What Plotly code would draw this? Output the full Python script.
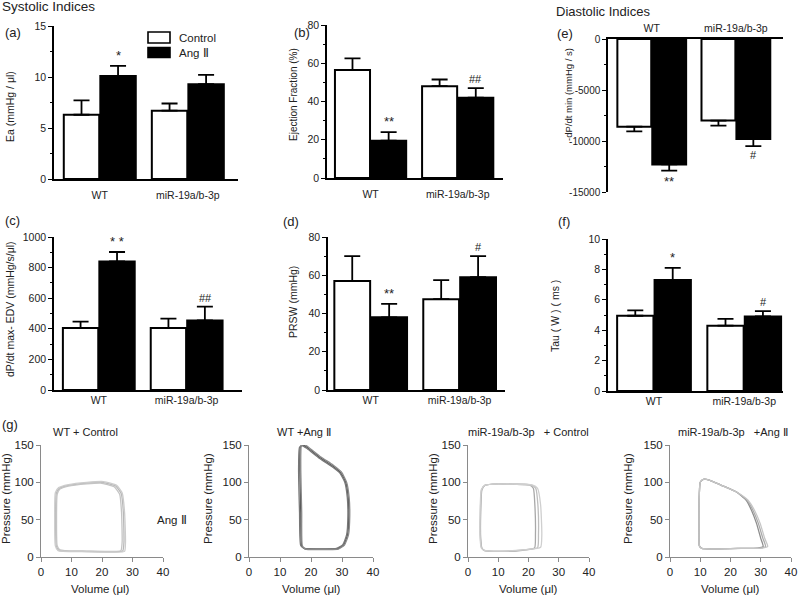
import plotly.graph_objects as go

W, H = 800, 595
FONT = "Arial, Liberation Sans, sans-serif"
TXT = "#222222"

groups = ["WT", "miR-19a/b-3p"]

# (a) Ea
ea_ctrl = [6.3, 6.7]
ea_ctrl_err = [1.4, 0.7]
ea_ang = [10.1, 9.3]
ea_ang_err = [1.0, 0.9]
ea_sig = ["*", ""]

# (b) Ejection fraction
ef_ctrl = [56.5, 48.0]
ef_ctrl_err = [6.0, 3.5]
ef_ang = [19.5, 42.0]
ef_ang_err = [4.5, 5.0]
ef_sig = ["**", "##"]

# (e) -dP/dt min
dpmin_ctrl = [-8600, -8000]
dpmin_ctrl_err = [450, 500]
dpmin_ang = [-12300, -9800]
dpmin_ang_err = [600, 700]
dpmin_sig = ["**", "#"]
dpmin_ticks = [-15000, -10000, -5000, 0]
dpmin_ticktext = ["-15000", "-10000", "-5000", "0"]

# (c) dP/dt max - EDV
dpedv_ctrl = [405, 405]
dpedv_ctrl_err = [42, 62]
dpedv_ang = [840, 455]
dpedv_ang_err = [62, 90]
dpedv_sig = ["* *", "##"]

# (d) PRSW
prsw_ctrl = [57.0, 47.5]
prsw_ctrl_err = [13.0, 10.0]
prsw_ang = [38.0, 59.0]
prsw_ang_err = [7.0, 11.0]
prsw_sig = ["**", "#"]

# (f) Tau
tau_ctrl = [4.95, 4.3]
tau_ctrl_err = [0.35, 0.45]
tau_ang = [7.3, 4.9]
tau_ang_err = [0.8, 0.35]
tau_sig = ["*", "#"]

# (g) PV loops: volume (ul), pressure (mmHg), several cycles per panel
wt_ctrl_vol = [
    [7.5, 15, 24, 26.8, 27.2, 27.0, 26.3, 24.5, 20, 15, 9, 6, 5.0, 4.8, 5.0, 5.8, 7.5],
    [7.8, 15, 23.5, 26.2, 26.6, 26.4, 25.8, 24.0, 19.5, 15, 9, 6.2, 5.3, 5.1, 5.3, 6.2, 7.8],
    [7.2, 15, 24.5, 27.4, 27.7, 27.4, 26.6, 24.8, 20.5, 15, 9, 5.8, 4.7, 4.5, 4.7, 5.6, 7.2],
]
wt_ctrl_p = [
    [8, 7.5, 7, 8, 20, 60, 85, 95, 100, 99, 96, 92, 85, 50, 15, 9, 8],
    [8.5, 8, 7.5, 8.5, 20, 60, 84, 94, 99, 98, 95, 91, 84, 50, 15, 9.5, 8.5],
    [7.5, 7, 6.5, 7.5, 20, 60, 86, 96, 101, 100, 97, 93, 86, 50, 15, 8.5, 7.5],
]

wt_ang_vol = [
    [18, 24, 28.5, 30.5, 31.8, 32.2, 32.0, 31.2, 29.5, 27, 23, 19, 17.5, 16.6, 16.4, 16.7, 17.0, 18],
    [18, 24, 28.2, 30.2, 31.5, 31.9, 31.7, 30.9, 29.2, 26.8, 22.8, 18.8, 17.3, 16.3, 16.0, 16.3, 16.7, 18],
    [18.2, 24, 28.8, 30.8, 32.1, 32.5, 32.3, 31.5, 29.8, 27.2, 23.2, 19.2, 17.7, 16.9, 16.7, 17.0, 17.2, 18.2],
]
wt_ang_p = [
    [11, 10.5, 11, 16, 30, 55, 80, 100, 113, 122, 133, 146, 150, 148, 120, 60, 15, 11],
    [11.5, 11, 11.5, 16, 30, 55, 80, 100, 113, 121, 132, 145, 149, 147, 120, 60, 15, 11.5],
    [10.5, 10, 10.5, 16, 30, 55, 80, 100, 114, 123, 134, 147, 151, 149, 120, 60, 15, 10.5],
]

mir_ctrl_vol = [
    [5.5, 11, 18, 22.0, 22.3, 22.1, 21.6, 20.3, 15, 10, 5.6, 4.6, 4.2, 4.2, 4.6, 5.5],
    [5.5, 11, 18.5, 23.0, 23.3, 23.1, 22.4, 20.8, 15, 10, 5.6, 4.5, 4.1, 4.1, 4.5, 5.5],
    [5.4, 11, 19, 24.0, 24.4, 24.0, 23.0, 21.2, 15, 10, 5.5, 4.4, 4.0, 4.0, 4.4, 5.4],
]
mir_ctrl_p = [
    [8.5, 7.5, 9, 12, 30, 70, 92, 96.5, 97.5, 98, 96, 90, 60, 25, 12, 8.5],
    [8.5, 7.5, 9.5, 12.5, 30, 70, 92, 96.5, 97.5, 98, 96, 90, 60, 25, 12, 8.5],
    [9, 8, 10, 13, 30, 70, 92, 96.5, 97.5, 98, 96, 90, 60, 25, 12, 9],
]

mir_ang_vol = [
    [10.5, 16, 23, 29, 30.8, 30.0, 28.6, 27.0, 25.2, 22, 17, 13, 11, 10, 9.7, 9.6, 9.7, 10.5],
    [10.5, 16, 23.5, 29.8, 31.6, 30.7, 29.2, 27.5, 25.5, 22, 17, 13, 11, 10, 9.7, 9.6, 9.7, 10.5],
    [10.5, 16, 24, 30.5, 32.3, 31.3, 29.8, 28.0, 25.8, 22, 17, 13, 11, 10, 9.7, 9.6, 9.7, 10.5],
]
mir_ang_p = [
    [11.5, 11, 11.5, 12, 14, 25, 45, 62, 76, 87, 96, 103, 104, 100, 85, 40, 15, 11.5],
    [11.5, 11, 11.5, 12, 14, 25, 45, 62, 76, 87, 96, 103, 104, 100, 85, 40, 15, 11.5],
    [11.5, 11, 11.5, 12, 14, 25, 45, 62, 76, 87, 96, 103, 104, 100, 85, 40, 15, 11.5],
]

pv_titles = ["WT + Control", "WT +Ang \u2161", "miR-19a/b-3p   + Control", "miR-19a/b-3p   +Ang \u2161"]
pv_x_ticks = [0, 10, 20, 30, 40]
pv_y_ticks = [0, 50, 100, 150]


def fx(px):
    return px / W


def fy(py):
    return 1 - py / H


def note(text, x, y, size, angle=0, xanchor="center", yanchor="middle"):
    return dict(text=text, x=fx(x), y=fy(y), xref="paper", yref="paper",
                xanchor=xanchor, yanchor=yanchor, textangle=angle, showarrow=False,
                font=dict(family=FONT, size=size, color=TXT))


fig = go.Figure()
annotations = []
shapes = []

bar_panels = [
    dict(c=ea_ctrl, ce=ea_ctrl_err, a=ea_ang, ae=ea_ang_err, sig=ea_sig,
         xpx=(54, 238), ypx=(26, 179), yr=[0, 15], dt=5, mdt=2.5, xr=[-0.52, 1.57], xgap=6,
         yt="Ea (mmHg / \u03bcl)", tpos=(10, 107), tsz=10.5, lab="(a)", lpos=(3, 32), neg=False),
    dict(c=ef_ctrl, ce=ef_ctrl_err, a=ef_ang, ae=ef_ang_err, sig=ef_sig,
         xpx=(327, 503), ypx=(25, 178), yr=[0, 80], dt=20, mdt=10, xr=[-0.5, 1.52], xgap=6,
         yt="Ejection Fraction (%)", tpos=(294, 95), tsz=10, lab="(b)", lpos=(292, 32), neg=False),
    dict(c=dpmin_ctrl, ce=dpmin_ctrl_err, a=dpmin_ang, ae=dpmin_ang_err, sig=dpmin_sig,
         xpx=(608, 783), ypx=(39, 192), yr=[-15000, 0], dt=5000, mdt=2500, xr=[-0.52, 1.56], xgap=1,
         yt="-dP/dt min (mmHg / s)", tpos=(569, 95), tsz=9.5, lab="(e)", lpos=(555, 33), neg=True),
    dict(c=dpedv_ctrl, ce=dpedv_ctrl_err, a=dpedv_ang, ae=dpedv_ang_err, sig=dpedv_sig,
         xpx=(54, 242), ypx=(237, 390), yr=[0, 1000], dt=200, mdt=100, xr=[-0.51, 1.63], xgap=0,
         yt="dP/dt max- EDV (mmHg/s/\u03bcl)", tpos=(10, 309), tsz=10.5, lab="(c)", lpos=(3, 220), neg=False),
    dict(c=prsw_ctrl, ce=prsw_ctrl_err, a=prsw_ang, ae=prsw_ang_err, sig=prsw_sig,
         xpx=(328, 505), ypx=(237, 390), yr=[0, 80], dt=20, mdt=10, xr=[-0.48, 1.51], xgap=0,
         yt="PRSW (mmHg)", tpos=(293, 302), tsz=10.5, lab="(d)", lpos=(281, 221), neg=False),
    dict(c=tau_ctrl, ce=tau_ctrl_err, a=tau_ang, ae=tau_ang_err, sig=tau_sig,
         xpx=(608, 783), ypx=(239, 391), yr=[0, 10], dt=2, mdt=1, xr=[-0.51, 1.43], xgap=0,
         yt="Tau ( W ) ( ms )", tpos=(555, 316), tsz=10.5, lab="(f)", lpos=(556, 221), neg=False),
]

layout_axes = {}
for i, p in enumerate(bar_panels, start=1):
    xa = "x" if i == 1 else f"x{i}"
    ya = "y" if i == 1 else f"y{i}"
    neg = p["neg"]
    zeros = [0, 0]
    ebc = dict(type="data", symmetric=False, color="black", thickness=1.8, width=8)
    fig.add_trace(go.Bar(
        x=groups, y=p["c"], xaxis=xa, yaxis=ya, name="Control", showlegend=False,
        marker=dict(color="white", line=dict(color="black", width=2)),
        error_y=dict(ebc, array=zeros if neg else p["ce"], arrayminus=p["ce"] if neg else zeros),
    ))
    fig.add_trace(go.Bar(
        x=groups, y=p["a"], xaxis=xa, yaxis=ya, name="Ang \u2161", showlegend=False,
        marker=dict(color="black", line=dict(color="black", width=2)),
        error_y=dict(ebc, array=zeros if neg else p["ae"], arrayminus=p["ae"] if neg else zeros),
    ))
    kx = "xaxis" if i == 1 else f"xaxis{i}"
    ky = "yaxis" if i == 1 else f"yaxis{i}"
    xax = dict(
        domain=[fx(p["xpx"][0]), fx(p["xpx"][1])], anchor=ya, type="category",
        range=p["xr"], showline=True, linecolor="black", linewidth=1.5,
        showgrid=False, zeroline=False, side="top" if neg else "bottom", automargin=False,
        tickfont=dict(family=FONT, size=10.5, color=TXT), fixedrange=True,
    )
    if p["xgap"] > 0:
        xax.update(ticks="outside", ticklen=p["xgap"], tickcolor="rgba(0,0,0,0)")
    else:
        xax.update(ticks="")
    layout_axes[kx] = xax
    yax = dict(
        domain=[fy(p["ypx"][1]), fy(p["ypx"][0])], anchor=xa, range=p["yr"],
        dtick=p["dt"], tick0=0, showline=True, linecolor="black", linewidth=1.5,
        ticks="outside", ticklen=4, tickwidth=1.2, tickcolor="black",
        minor=dict(dtick=p["mdt"], ticks="outside", ticklen=2, tickcolor="black", tickwidth=1),
        showgrid=False, zeroline=False, automargin=False,
        tickfont=dict(family=FONT, size=10.5 if not neg else 10, color=TXT),
    )
    if neg:
        yax["tickmode"] = "array"
        yax["tickvals"] = dpmin_ticks
        yax["ticktext"] = dpmin_ticktext
    layout_axes[ky] = yax
    annotations.append(note(p["yt"], p["tpos"][0], p["tpos"][1], p["tsz"], angle=-90))
    annotations.append(note(p["lab"], p["lpos"][0], p["lpos"][1], 13, xanchor="left"))
    for gi, s in enumerate(p["sig"]):
        if not s:
            continue
        yv = p["a"][gi] - p["ae"][gi] if neg else p["a"][gi] + p["ae"][gi]
        annotations.append(dict(
            text=s, x=gi + 0.21, y=yv, xref=xa, yref=ya, showarrow=False,
            xanchor="center", yanchor="top" if neg else "bottom", yshift=-1 if neg else 1,
            font=dict(family=FONT, size=13 if "*" in s else 11, color=TXT)))

# PV loops
pv_sets = [(wt_ctrl_vol, wt_ctrl_p), (wt_ang_vol, wt_ang_p), (mir_ctrl_vol, mir_ctrl_p), (mir_ang_vol, mir_ang_p)]
pv_xpx = [(41, 163), (249, 373), (468, 589), (670, 791)]
pv_ypx = (445, 557)
pv_colors = [["#b8b8b8", "#c4c4c4", "#cccccc"], ["#555555", "#777777", "#8a8a8a"],
             ["#a8a8a8", "#bdbdbd", "#cfcfcf"], ["#8d8d8d", "#aaaaaa", "#c6c6c6"]]
pv_ytitle_x = [6, 208, 433, 628]
pv_xtitle_x = [100, 311, 528, 730]
pv_title_x = [85, 304, 528, 733]

for j, (vols, prs) in enumerate(pv_sets):
    i = 7 + j
    xa, ya = f"x{i}", f"y{i}"
    for k, (v, pr) in enumerate(zip(vols, prs)):
        fig.add_trace(go.Scatter(
            x=v, y=pr, xaxis=xa, yaxis=ya, mode="lines", showlegend=False,
            line=dict(color=pv_colors[j][k], width=1.3, shape="spline", smoothing=0.5),
        ))
    layout_axes[f"xaxis{i}"] = dict(
        domain=[fx(pv_xpx[j][0]), fx(pv_xpx[j][1])], anchor=ya, range=[0, 40],
        tickvals=pv_x_ticks, showline=True, linecolor="#8a8a8a", linewidth=1,
        ticks="outside", ticklen=4, tickcolor="#8a8a8a", showgrid=False, zeroline=False,
        automargin=False, tickfont=dict(family=FONT, size=11.5, color=TXT),
    )
    layout_axes[f"yaxis{i}"] = dict(
        domain=[fy(pv_ypx[1]), fy(pv_ypx[0])], anchor=xa, range=[0, 150],
        tickvals=pv_y_ticks, showline=True, linecolor="#8a8a8a", linewidth=1,
        ticks="outside", ticklen=4, tickcolor="#8a8a8a", showgrid=False, zeroline=False,
        automargin=False, tickfont=dict(family=FONT, size=11.5, color=TXT),
    )
    annotations.append(note("Pressure (mmHg)", pv_ytitle_x[j], 499, 11.5, angle=-90))
    annotations.append(note("Volume (\u03bcl)", pv_xtitle_x[j], 589, 11.5))
    annotations.append(note(pv_titles[j], pv_title_x[j], 432, 11))

annotations += [
    note("Systolic Indices", 0, 7, 13.5, xanchor="left"),
    note("Diastolic Indices", 554, 11, 13, xanchor="left"),
    note("(g)", 0, 424, 13, xanchor="left"),
    note("Ang \u2161", 155, 520, 11.5, xanchor="left"),
    note("Control", 177, 37.5, 11.5, xanchor="left"),
    note("Ang \u2161", 177, 52.5, 11.5, xanchor="left"),
]

shapes += [
    dict(type="rect", xref="paper", yref="paper", x0=fx(148), x1=fx(170), y0=fy(43), y1=fy(32),
         fillcolor="white", line=dict(color="black", width=1.6)),
    dict(type="rect", xref="paper", yref="paper", x0=fx(148), x1=fx(170), y0=fy(57.5), y1=fy(47.5),
         fillcolor="black", line=dict(color="black", width=1.6)),
]

fig.update_layout(
    width=W, height=H, margin=dict(l=0, r=0, t=0, b=0, pad=0, autoexpand=False),
    paper_bgcolor="white", plot_bgcolor="white",
    barmode="group", bargap=0.17, bargroupgap=0.03,
    showlegend=False, annotations=annotations, shapes=shapes,
    font=dict(family=FONT, color=TXT),
    **layout_axes,
)

fig.write_html("out.html", config={"displayModeBar": False},
               post_script="document.body.style.margin='0px';")
